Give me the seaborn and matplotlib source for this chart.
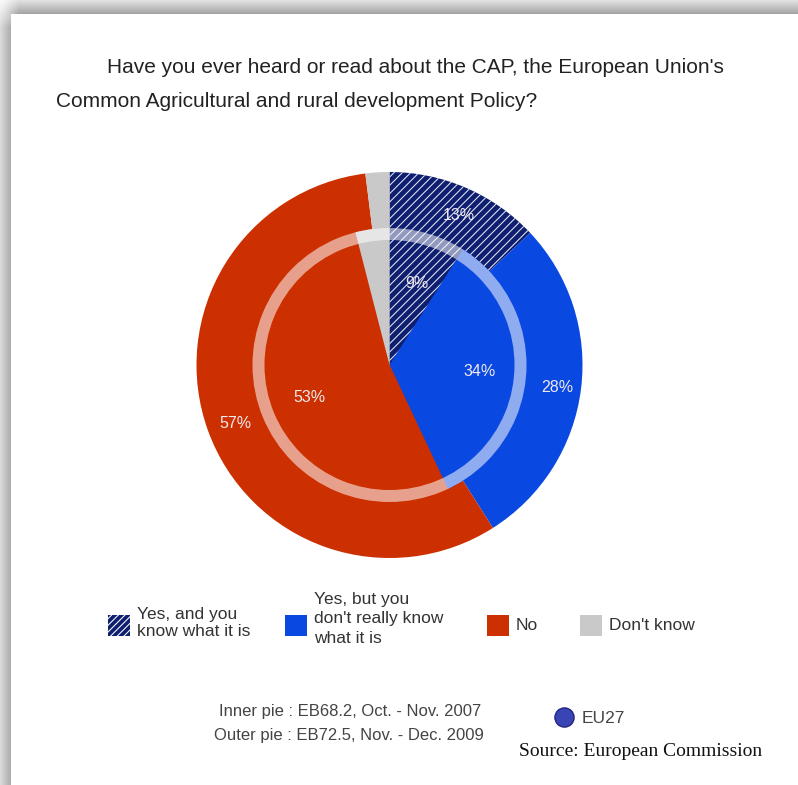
import numpy as np
import matplotlib
matplotlib.use("Agg")
import matplotlib.pyplot as plt
from matplotlib.patches import Rectangle, Wedge
import seaborn as sns

categories = ["Yes, and you\nknow what it is", "Yes, but you\ndon't really know\nwhat it is", "No", "Don't know"]
outer_values = [13, 28, 57, 2]
inner_values = [9, 34, 53, 4]
slice_colors = ["#0F1F70", "#0A48E2", "#CC2F00", "#C9C9C9"]
title_lines = ["Have you ever heard or read about the CAP, the European Union's",
               "Common Agricultural and rural development Policy?"]
footer_lines = ["Inner pie : EB68.2, Oct. - Nov. 2007", "Outer pie : EB72.5, Nov. - Dec. 2009"]
region_label = "EU27"
source_label = "Source: European Commission"

W, H = 798, 785
sns.set_theme(style="white")
plt.rcParams["font.family"] = ["Liberation Sans", "DejaVu Sans"]
plt.rcParams["hatch.linewidth"] = 0.75

fig = plt.figure(figsize=(W / 100, H / 100), dpi=100)
ax = fig.add_axes([0, 0, 1, 1])


def py(y):
    """Convert a distance from the top edge to an axis y position."""
    return H - y


# Grey drop-shadow band along the top and left of the white panel
yy, xx = np.mgrid[0:H, 0:W]
fade_x = np.clip(0.15 + xx / 22, 0, 1)
fade_y = np.clip(0.15 + yy / 32, 0, 1)
top_band = np.where(yy < 14, (30 + yy * 4.6) * fade_x, 0)
left_band = np.where(xx < 11, (38 + xx * 4.4) * fade_y, 0)
shade = 255 - np.maximum(top_band, left_band)
ax.imshow(shade, cmap="gray", vmin=0, vmax=255, extent=(0, W, 0, H), aspect="auto", zorder=0)

center = (389.5, py(365))


def ring_pie(values, radius, z):
    wedges, _ = ax.pie(values, colors=slice_colors, startangle=90, counterclock=False,
                       center=center, radius=radius, frame=True,
                       wedgeprops={"linewidth": 0, "zorder": z})
    # The edge colour of a zero-width outline sets the colour of the hatching
    wedges[0].set_edgecolor("#E4E7F4")
    wedges[0].set_hatch("////")
    return wedges


ring_pie(outer_values, 193, 2)
ring_pie(inner_values, 137, 3)
ax.add_patch(Wedge(center, 137, 0, 360, width=12, facecolor="white", alpha=0.55,
                   linewidth=0, zorder=4))

# Percentage labels
label_color = "#F1E9EE"
outer_spots = [(459, 215), (557, 388), (235, 423)]
inner_spots = [(417, 283), (480, 372), (309, 397)]
for value, (x, y) in zip(outer_values, outer_spots):
    ax.text(x, py(y), f"{value}%", color=label_color, fontsize=11.5, ha="center", va="center", zorder=5)
for value, (x, y) in zip(inner_values, inner_spots):
    ax.text(x, py(y), f"{value}%", color=label_color, fontsize=11.5, ha="center", va="center", zorder=5)

# Question heading
ax.text(107, py(73), title_lines[0], fontsize=15, color="#222222", ha="left", va="baseline")
ax.text(56, py(107), title_lines[1], fontsize=15, color="#222222", ha="left", va="baseline")

# Legend row
swatch_x = [108, 285, 487, 580]
text_x = [137, 314, 516, 609]
text_y = [623, 619, 626, 626]
line_gaps = [1.25, 1.39, 1.0, 1.0]
for i, name in enumerate(categories):
    hatch = "/////" if i == 0 else None
    ax.add_patch(Rectangle((swatch_x[i], py(636)), 22, 21, facecolor=slice_colors[i],
                           edgecolor="white" if i == 0 else slice_colors[i],
                           hatch=hatch, linewidth=0, zorder=3))
    ax.text(text_x[i], py(text_y[i]), name, fontsize=12.5, color="#333333", ha="left", va="center",
            linespacing=line_gaps[i], zorder=3)

# Survey notes and source
ax.text(481, py(716), footer_lines[0], fontsize=12, color="#444444", ha="right", va="baseline")
ax.text(484, py(740), footer_lines[1], fontsize=12, color="#444444", ha="right", va="baseline")
ax.scatter([564], [py(717)], s=190, color="#3A45B5", edgecolor="#23257F", linewidth=1, zorder=3)
ax.text(582, py(723), region_label, fontsize=12.5, color="#444444", ha="left", va="baseline")
ax.text(519, py(756), source_label, fontsize=14, color="#111111", ha="left", va="baseline",
        family="Liberation Serif")

ax.set_xlim(0, W)
ax.set_ylim(0, H)
ax.set_aspect("auto")
ax.axis("off")

fig.savefig("out.png", dpi=100)
